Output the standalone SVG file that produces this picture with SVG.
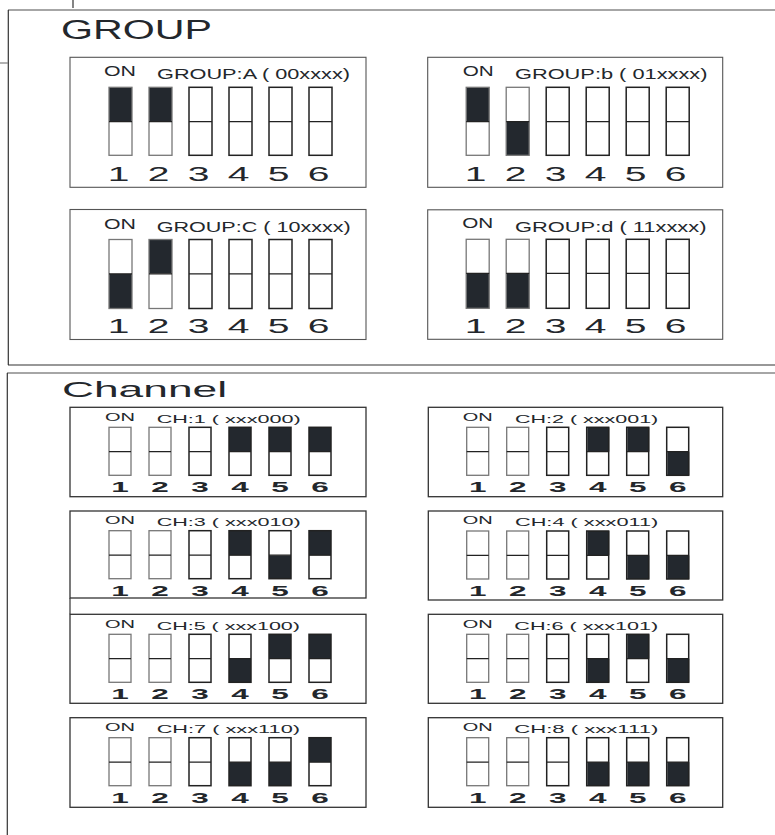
<svg xmlns="http://www.w3.org/2000/svg" width="775" height="835" viewBox="0 0 775 835">
<style>
  text { font-family: "Liberation Sans", Arial, sans-serif; fill: #23272c; }
  .title { font-size: 27px; }
  .ctitle { font-size: 22px; }
  .gon, .glab { font-size: 14.4px; }
  .con, .clab { font-size: 10.3px; }
  .gd { font-size: 19.5px; text-anchor: middle; }
  .cd { font-size: 15px; font-weight: bold; text-anchor: middle; }
  .gbox { fill: #fff; stroke: #555; stroke-width: 1.1; }
  .cbox { fill: #fff; stroke: #333; stroke-width: 1.3; }
  .sw { fill: none; stroke: #222; stroke-width: 1.5; }
  .swl { fill: none; stroke: #777; stroke-width: 1.3; }
  .fill { fill: #23282e; }
  .mid { stroke: #222; stroke-width: 1.3; }
  .frameg { stroke: #888; stroke-width: 1.3; fill: none; }
  .framed { stroke: #333; stroke-width: 1.2; fill: none; }
</style>
<rect width="775" height="835" fill="#fff"/>

<g id="frames">
  <line class="frameg" x1="8" y1="10" x2="775" y2="10"/>
  <line class="framed" x1="8.3" y1="10" x2="8.3" y2="365"/>
  <line class="framed" x1="8" y1="365" x2="775" y2="365"/>
  <line class="frameg" x1="7" y1="373" x2="775" y2="373"/>
  <line class="framed" x1="7.3" y1="373" x2="7.3" y2="835"/>
  <line class="framed" x1="73" y1="0" x2="73" y2="8"/>
  <line class="frameg" x1="0" y1="63" x2="8" y2="63"/>
  <line class="framed" x1="70" y1="598" x2="70" y2="614.3"/>
</g>

<text class="title" x="61" y="39.3" textLength="151" lengthAdjust="spacingAndGlyphs">GROUP</text>
<text class="ctitle" x="62" y="396.7" textLength="165" lengthAdjust="spacingAndGlyphs">Channel</text>

<!-- GROUP A -->
<g id="group-a" transform="translate(70,57.3)">
  <rect class="gbox" x="0" y="0" width="296" height="130"/>
  <text class="gon" x="34" y="19" textLength="32" lengthAdjust="spacingAndGlyphs">ON</text>
  <text class="glab" x="87" y="21.5" textLength="193" lengthAdjust="spacingAndGlyphs">GROUP:A ( 00xxxx)</text>
  <rect class="fill" x="39" y="30" width="23" height="34"/>
  <rect class="fill" x="79" y="30" width="23" height="34"/>
  <rect class="swl" x="39" y="30" width="23" height="68"/>
  <rect class="swl" x="79" y="30" width="23" height="68"/>
  <rect class="sw" x="119" y="30" width="23" height="68"/>
  <rect class="sw" x="159" y="30" width="23" height="68"/>
  <rect class="sw" x="199" y="30" width="23" height="68"/>
  <rect class="sw" x="239" y="30" width="23" height="68"/>
  <path class="mid" d="M39 64.4h23M79 64.4h23M119 64.4h23M159 64.4h23M199 64.4h23M239 64.4h23"/>
  <text class="gd" transform="translate(48.5,123.5) scale(2,1)">1</text>
  <text class="gd" transform="translate(88.5,123.5) scale(2,1)">2</text>
  <text class="gd" transform="translate(128.5,123.5) scale(2,1)">3</text>
  <text class="gd" transform="translate(168.5,123.5) scale(2,1)">4</text>
  <text class="gd" transform="translate(208.5,123.5) scale(2,1)">5</text>
  <text class="gd" transform="translate(248.5,123.5) scale(2,1)">6</text>
</g>

<!-- GROUP b -->
<g id="group-b" transform="translate(427.7,57.3)">
  <rect class="gbox" x="0" y="0" width="295" height="130"/>
  <text class="gon" x="35" y="19" textLength="31" lengthAdjust="spacingAndGlyphs">ON</text>
  <text class="glab" x="87.3" y="21.5" textLength="192.5" lengthAdjust="spacingAndGlyphs">GROUP:b ( 01xxxx)</text>
  <rect class="fill" x="38.5" y="30" width="23" height="34"/>
  <rect class="fill" x="78.5" y="64.4" width="23" height="33.6"/>
  <rect class="swl" x="38.5" y="30" width="23" height="68"/>
  <rect class="swl" x="78.5" y="30" width="23" height="68"/>
  <rect class="sw" x="118.5" y="30" width="23" height="68"/>
  <rect class="sw" x="158.5" y="30" width="23" height="68"/>
  <rect class="sw" x="198.5" y="30" width="23" height="68"/>
  <rect class="sw" x="238.5" y="30" width="23" height="68"/>
  <path class="mid" d="M38.5 64.4h23M78.5 64.4h23M118.5 64.4h23M158.5 64.4h23M198.5 64.4h23M238.5 64.4h23"/>
  <text class="gd" transform="translate(48,123.5) scale(2,1)">1</text>
  <text class="gd" transform="translate(88,123.5) scale(2,1)">2</text>
  <text class="gd" transform="translate(128,123.5) scale(2,1)">3</text>
  <text class="gd" transform="translate(168,123.5) scale(2,1)">4</text>
  <text class="gd" transform="translate(208,123.5) scale(2,1)">5</text>
  <text class="gd" transform="translate(248,123.5) scale(2,1)">6</text>
</g>

<!-- GROUP C -->
<g id="group-c" transform="translate(70,209.5)">
  <rect class="gbox" x="0" y="0" width="296" height="130"/>
  <text class="gon" x="34" y="19" textLength="32" lengthAdjust="spacingAndGlyphs">ON</text>
  <text class="glab" x="86.7" y="22" textLength="194" lengthAdjust="spacingAndGlyphs">GROUP:C ( 10xxxx)</text>
  <rect class="fill" x="39" y="64.4" width="23" height="34.6"/>
  <rect class="fill" x="79" y="30" width="23" height="34"/>
  <rect class="swl" x="39" y="30" width="23" height="69"/>
  <rect class="swl" x="79" y="30" width="23" height="69"/>
  <rect class="sw" x="119" y="30" width="23" height="69"/>
  <rect class="sw" x="159" y="30" width="23" height="69"/>
  <rect class="sw" x="199" y="30" width="23" height="69"/>
  <rect class="sw" x="239" y="30" width="23" height="69"/>
  <path class="mid" d="M39 64.4h23M79 64.4h23M119 64.4h23M159 64.4h23M199 64.4h23M239 64.4h23"/>
  <text class="gd" transform="translate(48.5,123) scale(2,1)">1</text>
  <text class="gd" transform="translate(88.5,123) scale(2,1)">2</text>
  <text class="gd" transform="translate(128.5,123) scale(2,1)">3</text>
  <text class="gd" transform="translate(168.5,123) scale(2,1)">4</text>
  <text class="gd" transform="translate(208.5,123) scale(2,1)">5</text>
  <text class="gd" transform="translate(248.5,123) scale(2,1)">6</text>
</g>

<!-- GROUP d -->
<g id="group-d" transform="translate(427.7,209.8)">
  <rect class="gbox" x="0" y="0" width="295" height="129.5"/>
  <text class="gon" x="34.6" y="18.5" textLength="31" lengthAdjust="spacingAndGlyphs">ON</text>
  <text class="glab" x="87.3" y="22" textLength="191.5" lengthAdjust="spacingAndGlyphs">GROUP:d ( 11xxxx)</text>
  <rect class="fill" x="38.5" y="63.5" width="23" height="35"/>
  <rect class="fill" x="78.5" y="63.5" width="23" height="35"/>
  <rect class="swl" x="38.5" y="29.5" width="23" height="69"/>
  <rect class="swl" x="78.5" y="29.5" width="23" height="69"/>
  <rect class="sw" x="118.5" y="29.5" width="23" height="69"/>
  <rect class="sw" x="158.5" y="29.5" width="23" height="69"/>
  <rect class="sw" x="198.5" y="29.5" width="23" height="69"/>
  <rect class="sw" x="238.5" y="29.5" width="23" height="69"/>
  <path class="mid" d="M38.5 63.5h23M78.5 63.5h23M118.5 63.5h23M158.5 63.5h23M198.5 63.5h23M238.5 63.5h23"/>
  <text class="gd" transform="translate(48,123.5) scale(2,1)">1</text>
  <text class="gd" transform="translate(88,123.5) scale(2,1)">2</text>
  <text class="gd" transform="translate(128,123.5) scale(2,1)">3</text>
  <text class="gd" transform="translate(168,123.5) scale(2,1)">4</text>
  <text class="gd" transform="translate(208,123.5) scale(2,1)">5</text>
  <text class="gd" transform="translate(248,123.5) scale(2,1)">6</text>
</g>

<defs>
  <g id="chbase">
    <rect class="swl" x="39" y="20" width="22" height="48"/>
    <rect class="swl" x="79" y="20" width="22" height="48"/>
    <rect class="sw" x="119" y="20" width="22" height="48"/>
    <rect class="sw" x="159" y="20" width="22" height="48"/>
    <rect class="sw" x="199" y="20" width="22" height="48"/>
    <rect class="sw" x="239" y="20" width="22" height="48"/>
    <path class="mid" d="M39 44.4h22M79 44.4h22M119 44.4h22M159 44.4h22M199 44.4h22M239 44.4h22"/>
    <text class="cd" transform="translate(50,85) scale(2.1,1)">1</text>
    <text class="cd" transform="translate(90,85) scale(2.1,1)">2</text>
    <text class="cd" transform="translate(130,85) scale(2.1,1)">3</text>
    <text class="cd" transform="translate(170,85) scale(2.1,1)">4</text>
    <text class="cd" transform="translate(210,85) scale(2.1,1)">5</text>
    <text class="cd" transform="translate(250,85) scale(2.1,1)">6</text>
    <text class="con" x="35" y="13.4" textLength="30" lengthAdjust="spacingAndGlyphs">ON</text>
  </g>
</defs>

<!-- CH1 xxx000 -->
<g id="ch1" transform="translate(70,407.3)">
  <rect class="cbox" x="0" y="0" width="296" height="89.4"/>
  <rect class="fill" x="159" y="20" width="22" height="24.4"/>
  <rect class="fill" x="199" y="20" width="22" height="24.4"/>
  <rect class="fill" x="239" y="20" width="22" height="24.4"/>
  <use href="#chbase"/>
  <text class="clab" x="86.7" y="15.4" textLength="144" lengthAdjust="spacingAndGlyphs">CH:1 ( xxx000)</text>
</g>

<!-- CH2 xxx001 -->
<g id="ch2" transform="translate(428.3,407.3)">
  <rect class="cbox" x="0" y="0" width="294.4" height="89.4"/>
  <rect class="fill" x="159" y="20" width="22" height="24.4"/>
  <rect class="fill" x="199" y="20" width="22" height="24.4"/>
  <rect class="fill" x="239" y="44.4" width="22" height="23.6"/>
  <use href="#chbase" transform="translate(-0.6,0)"/>
  <text class="clab" x="86.7" y="15.4" textLength="143.3" lengthAdjust="spacingAndGlyphs">CH:2 ( xxx001)</text>
</g>

<!-- CH3 xxx010 -->
<g id="ch3" transform="translate(70,511)">
  <rect class="cbox" x="0" y="0" width="296" height="87"/>
  <rect class="fill" x="159" y="20" width="22" height="24.4"/>
  <rect class="fill" x="199" y="44.4" width="22" height="23.6"/>
  <rect class="fill" x="239" y="20" width="22" height="24.4"/>
  <use href="#chbase" transform="translate(0,-0.3)"/>
  <text class="clab" x="86.7" y="15" textLength="144" lengthAdjust="spacingAndGlyphs">CH:3 ( xxx010)</text>
</g>

<!-- CH4 xxx011 -->
<g id="ch4" transform="translate(428.3,511)">
  <rect class="cbox" x="0" y="0" width="294.4" height="89"/>
  <rect class="fill" x="159" y="20" width="22" height="24.4"/>
  <rect class="fill" x="199" y="44.4" width="22" height="23.6"/>
  <rect class="fill" x="239" y="44.4" width="22" height="23.6"/>
  <use href="#chbase" transform="translate(-0.6,0)"/>
  <text class="clab" x="86.7" y="15" textLength="143.3" lengthAdjust="spacingAndGlyphs">CH:4 ( xxx011)</text>
</g>

<!-- CH5 xxx100 -->
<g id="ch5" transform="translate(70,614.3)">
  <rect class="cbox" x="0" y="0" width="296" height="89"/>
  <rect class="fill" x="159" y="44.4" width="22" height="23.6"/>
  <rect class="fill" x="199" y="20" width="22" height="24.4"/>
  <rect class="fill" x="239" y="20" width="22" height="24.4"/>
  <use href="#chbase"/>
  <text class="clab" x="86.7" y="15.4" textLength="143.3" lengthAdjust="spacingAndGlyphs">CH:5 ( xxx100)</text>
</g>

<!-- CH6 xxx101 -->
<g id="ch6" transform="translate(428.3,614.3)">
  <rect class="cbox" x="0" y="0" width="294.4" height="89"/>
  <rect class="fill" x="159" y="44.4" width="22" height="23.6"/>
  <rect class="fill" x="199" y="20" width="22" height="24.4"/>
  <rect class="fill" x="239" y="44.4" width="22" height="23.6"/>
  <use href="#chbase" transform="translate(-0.6,0)"/>
  <text class="clab" x="86" y="15.4" textLength="144" lengthAdjust="spacingAndGlyphs">CH:6 ( xxx101)</text>
</g>

<!-- CH7 xxx110 -->
<g id="ch7" transform="translate(70,717.7)">
  <rect class="cbox" x="0" y="0" width="296" height="89.6"/>
  <rect class="fill" x="159" y="44.4" width="22" height="23.6"/>
  <rect class="fill" x="199" y="44.4" width="22" height="23.6"/>
  <rect class="fill" x="239" y="20" width="22" height="24.4"/>
  <use href="#chbase"/>
  <text class="clab" x="86.7" y="15.4" textLength="143.3" lengthAdjust="spacingAndGlyphs">CH:7 ( xxx110)</text>
</g>

<!-- CH8 xxx111 -->
<g id="ch8" transform="translate(428.3,717.7)">
  <rect class="cbox" x="0" y="0" width="294.4" height="89.6"/>
  <rect class="fill" x="159" y="44.4" width="22" height="23.6"/>
  <rect class="fill" x="199" y="44.4" width="22" height="23.6"/>
  <rect class="fill" x="239" y="44.4" width="22" height="23.6"/>
  <use href="#chbase" transform="translate(-0.6,0)"/>
  <text class="clab" x="86" y="15.4" textLength="144" lengthAdjust="spacingAndGlyphs">CH:8 ( xxx111)</text>
</g>
</svg>
